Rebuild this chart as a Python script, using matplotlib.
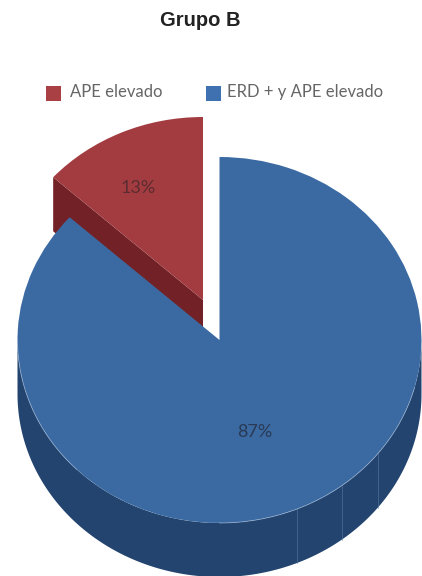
import numpy as np
import matplotlib
matplotlib.use('Agg')
import matplotlib.pyplot as plt
from matplotlib.patches import Wedge, Polygon, Rectangle
from matplotlib.transforms import Affine2D

title = 'Grupo B'
labels = ['APE elevado', 'ERD + y APE elevado']
values = [13.3, 86.7]
colors = ['#a33c40', '#3b6aa3']
side_colors = ['#722226', '#22446f']
legend_colors = ['#a94043', '#3f71b0']
seam_angles = [-67.4, -52.7, -38.4]

W, H = 422, 576
rx, ry = 202, 183
cx, cy = 219.5, H - 340
ox, oy = -16.5, 40
depth = 54
font = 'Lato'

fig = plt.figure(figsize=(W / 100, H / 100), dpi=100)
ax = fig.add_axes([0, 0, 1, 1])
ax.set_xlim(0, W)
ax.set_ylim(0, H)
ax.axis('off')


def ell(theta, x0, y0):
    t = np.radians(theta)
    return x0 + rx * np.cos(t), y0 + ry * np.sin(t)


split = 90 + values[0] * 3.6

# red slice, the cut face first and then the top
rx0, ry0 = cx + ox, cy + oy
px, py = ell(split, rx0, ry0)
ax.add_patch(Polygon([(rx0, ry0), (px, py), (px, py - depth), (rx0, ry0 - depth)],
                     fc=side_colors[0], ec='none', zorder=1))
tr_red = Affine2D().scale(rx, ry).translate(rx0, ry0) + ax.transData
ax.add_patch(Wedge((0, 0), 1, 90, split, fc=colors[0], ec='none', transform=tr_red, zorder=2))

# blue side wall
th = np.linspace(180, 360, 200)
xs, ys = ell(th, cx, cy)
wall = np.r_[np.c_[xs, ys][::-1], np.c_[xs, ys - depth]]
ax.add_patch(Polygon(wall, fc=side_colors[1], ec='none', zorder=3))
for a in seam_angles:
    x, y = ell(a, cx, cy)
    ax.plot([x, x], [y, y - depth], color='#5d7ea8', lw=0.6, alpha=0.6, zorder=4)

# blue top
tr_blue = Affine2D().scale(rx, ry).translate(cx, cy) + ax.transData
ax.add_patch(Wedge((0, 0), 1, split, 450, fc=colors[1], ec='none', transform=tr_blue, zorder=5))
for a, b in [(180, 225), (270, 345)]:
    th = np.linspace(a, b, 100)
    xs, ys = ell(th, cx, cy)
    ax.plot(xs, ys, color='#9db5d3', lw=0.6, alpha=0.7, zorder=6)

# percent labels
ax.text(138, H - 188, f'{values[0]:.0f}%', family=font, fontsize=13, color='#5c2c30',
        ha='center', va='center', zorder=7)
ax.text(255, H - 432, f'{values[1]:.0f}%', family=font, fontsize=13, color='#2a3a55',
        ha='center', va='center', zorder=7)

ax.text(200, H - 21, title, family='Liberation Sans', fontweight='bold', fontsize=14.5,
        color='#222222', ha='center', va='center')

# legend
for x_box, x_txt, lab, col in zip([46, 206], [70, 227], labels, legend_colors):
    ax.add_patch(Rectangle((x_box, H - 101), 15, 15, fc=col, ec='none'))
    ax.text(x_txt, H - 92, lab, family=font, fontsize=12, color='#666666',
            ha='left', va='center')

fig.savefig('out.png', dpi=100)
